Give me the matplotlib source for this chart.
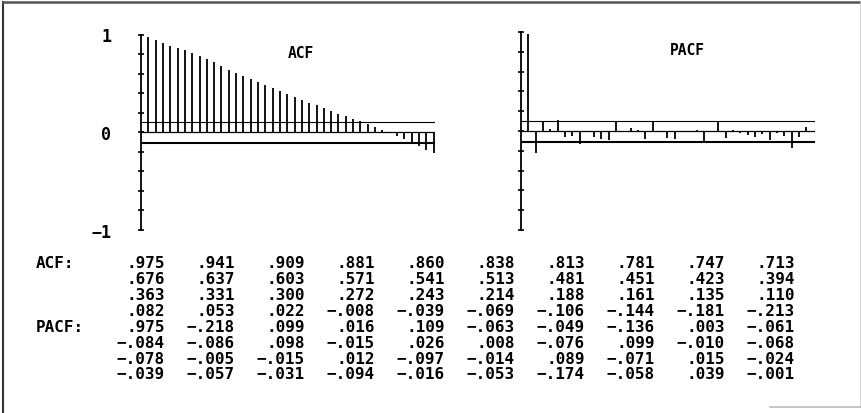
import matplotlib
matplotlib.use("Agg")
import matplotlib.pyplot as plt
from matplotlib.lines import Line2D
import numpy as np

# values
acf = [.975, .941, .909, .881, .860, .838, .813, .781, .747, .713,
	.676, .637, .603, .571, .541, .513, .481, .451, .423, .394,
	.363, .331, .300, .272, .243, .214, .188, .161, .135, .110,
	.082, .053, .022, -.008, -.039, -.069, -.106, -.144, -.181, -.213]

pacf = [.975, -.218, .099, .016, .109, -.063, -.049, -.136, .003, -.061,
	-.084, -.086, .098, -.015, .026, .008, -.076, .099, -.010, -.068,
	-.078, -.005, -.015, .012, -.097, -.014, .089, -.071, .015, -.024,
	-.039, -.057, -.031, -.094, -.016, -.053, -.174, -.058, .039, -.001]

conf_upper = 0.105
conf_lower = -0.11
ytick_vals = [-1, -0.8, -0.6, -0.4, -0.2, 0, 0.2, 0.4, 0.6, 0.8, 1]
ytick_text = ["\u22121", "", "", "", "", "0", "", "", "", "", "1"]

W, H = 862, 414
FONT = "DejaVu Sans Mono"

fig = plt.figure(figsize=(W / 100, H / 100), dpi=100)
fig.patch.set_facecolor("white")


def px_axes(left, right, top, bottom):
	return fig.add_axes([left / W, 1 - bottom / H, (right - left) / W, (bottom - top) / H])


def draw_panel(ax, vals, title, title_x, show_labels):
	lags = np.arange(1, len(vals) + 1)
	ax.set_xlim(0, 40.2)
	ax.set_ylim(-1, 1)
	for s in ["top", "right", "bottom"]:
		ax.spines[s].set_visible(False)
	ax.spines["left"].set_linewidth(1.3)
	ax.spines["left"].set_color("black")
	ax.set_xticks([])
	ax.set_yticks(ytick_vals)
	if show_labels:
		ax.set_yticklabels(ytick_text, fontsize=12, fontweight="bold", family=FONT)
	else:
		ax.set_yticklabels([])
	ax.tick_params(axis="y", direction="inout", length=5, width=1.2, pad=19)
	ax.axhline(0, color="black", lw=0.9)
	ax.axhline(conf_upper, color="black", lw=0.8)
	ax.axhline(conf_lower, color="black", lw=1.5)
	ax.vlines(lags, 0, vals, color="black", lw=1.3)
	ax.text(title_x, 0.82, title, ha="center", va="center", fontsize=10.5,
		fontweight="bold", family=FONT)
	ax.patch.set_alpha(0)


ax1 = px_axes(141, 435, 35.5, 230.5)
draw_panel(ax1, acf, "ACF", 21.9, True)

ax2 = px_axes(521, 815, 33, 231)
draw_panel(ax2, pacf, "PACF", 22.7, False)


def fmt(v):
	s = f"{abs(v):.3f}".lstrip("0")
	return ("\u2212" if v < 0 else "") + s


row_y0 = 264
row_step = 15.85
col_right0 = 165
col_step = 70

for block, (name, vals) in enumerate([("ACF:", acf), ("PACF:", pacf)]):
	for r in range(4):
		y = row_y0 + (block * 4 + r) * row_step
		if r == 0:
			fig.text(36 / W, 1 - y / H, name, ha="left", va="center", fontsize=11.5,
				fontweight="bold", family=FONT)
		for c in range(10):
			x = col_right0 + c * col_step
			fig.text(x / W, 1 - y / H, fmt(vals[r * 10 + c]), ha="right", va="center",
				fontsize=11.5, fontweight="bold", family=FONT)

# scanned page frame
fig.add_artist(Line2D([3 / W, 3 / W], [0, 1 - 3 / H], color="#333333", lw=1.5))
fig.add_artist(Line2D([3 / W, 1], [1 - 3 / H, 1 - 3 / H], color="#555555", lw=1.8))
fig.add_artist(Line2D([861 / W, 861 / W], [1 - 408 / H, 1 - 3 / H], color="#cccccc", lw=1.2))
fig.add_artist(Line2D([770 / W, 861 / W], [1 - 408 / H, 1 - 408 / H], color="#bbbbbb", lw=1.2))

fig.savefig("out.png", dpi=100, facecolor="white")
